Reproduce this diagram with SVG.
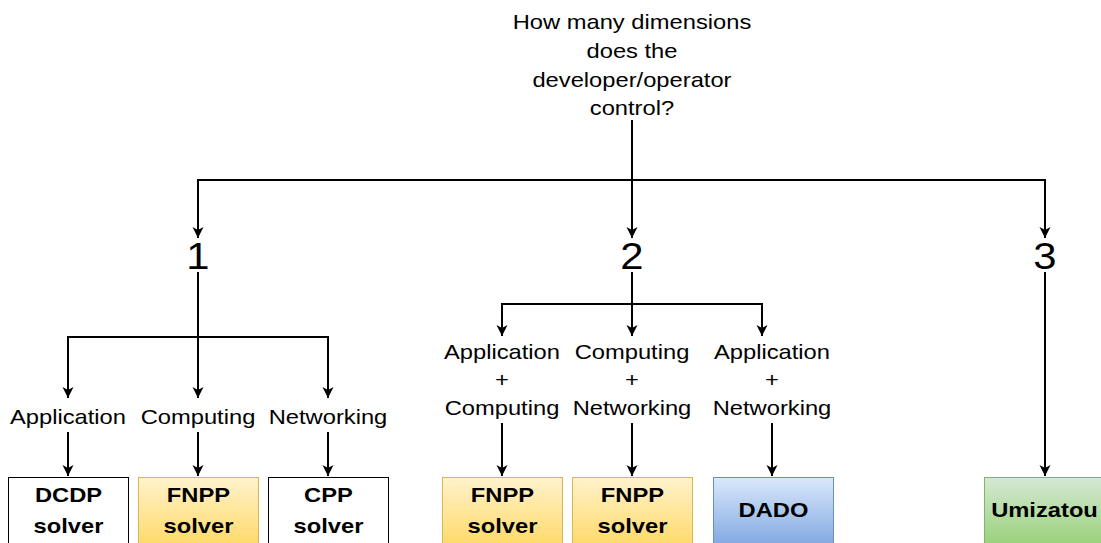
<svg xmlns="http://www.w3.org/2000/svg" width="1101" height="543" viewBox="0 0 1101 543">
<defs>
<marker id="arr" markerUnits="userSpaceOnUse" markerWidth="12" markerHeight="12" viewBox="0 0 12 12" refX="11" refY="6" orient="auto">
<path d="M0,0.5 L11,6 L0,11.5 L3,6 Z" fill="#000"/>
</marker>
<linearGradient id="gy" x1="0" y1="0" x2="0" y2="1"><stop offset="0" stop-color="#fff2cc"/><stop offset="1" stop-color="#ffd966"/></linearGradient>
<linearGradient id="gb" x1="0" y1="0" x2="0" y2="1"><stop offset="0" stop-color="#dae8fc"/><stop offset="1" stop-color="#7ea6e0"/></linearGradient>
<linearGradient id="gg" x1="0" y1="0" x2="0" y2="1"><stop offset="0" stop-color="#d5e8d4"/><stop offset="1" stop-color="#97d077"/></linearGradient>
</defs>
<style>
text{transform-box:fill-box;transform-origin:center;transform:scaleX(1.13)}
.t{font-family:"Liberation Sans",Arial,sans-serif;font-size:21px;fill:#000;text-anchor:middle}
.n{font-family:"Liberation Sans",Arial,sans-serif;font-size:37px;fill:#000;text-anchor:middle}
.b{font-family:"Liberation Sans",Arial,sans-serif;font-size:21px;font-weight:bold;fill:#000;text-anchor:middle}
.c{fill:none;stroke:#000;stroke-width:2}
.ca{fill:none;stroke:#000;stroke-width:2;marker-end:url(#arr)}
</style>
<rect width="1101" height="543" fill="#fff"/>
<g id="connectors">
<path class="ca" d="M632,120 L632,238"/>
<path class="ca" d="M632,180 L198,180 L198,238"/>
<path class="ca" d="M632,180 L1045,180 L1045,238"/>
<path class="ca" d="M198,272 L198,398"/>
<path class="ca" d="M198,337 L68,337 L68,398"/>
<path class="ca" d="M198,337 L328,337 L328,398"/>
<path class="ca" d="M632,272 L632,336"/>
<path class="ca" d="M632,304 L502,304 L502,336"/>
<path class="ca" d="M632,304 L762,304 L762,336"/>
<path class="ca" d="M68,432 L68,476"/>
<path class="ca" d="M198,432 L198,476"/>
<path class="ca" d="M328,432 L328,476"/>
<path class="ca" d="M502,423 L502,476"/>
<path class="ca" d="M632,423 L632,476"/>
<path class="ca" d="M772,423 L772,476"/>
<path class="ca" d="M1045,272 L1045,476"/>
</g>
<g id="question">
<text class="t" x="632" y="29">How many dimensions</text>
<text class="t" x="632" y="58">does the</text>
<text class="t" x="632" y="87">developer/operator</text>
<text class="t" x="632" y="115">control?</text>
</g>
<g id="n1"><rect x="183" y="240" width="30" height="32" fill="#fff"/><text class="n" x="198" y="269">1</text></g>
<g id="n2"><rect x="617" y="240" width="30" height="32" fill="#fff"/><text class="n" x="632" y="269">2</text></g>
<g id="n3"><rect x="1030" y="240" width="30" height="32" fill="#fff"/><text class="n" x="1045" y="269">3</text></g>
<g id="app"><rect x="8" y="404" width="120" height="27" fill="#fff"/><text class="t" x="68" y="424">Application</text></g>
<g id="comp"><rect x="139" y="404" width="118" height="27" fill="#fff"/><text class="t" x="198" y="424">Computing</text></g>
<g id="net"><rect x="268" y="404" width="120" height="27" fill="#fff"/><text class="t" x="328" y="424">Networking</text></g>
<g id="appcomp"><text class="t" x="502" y="359">Application</text><text class="t" x="502" y="387">+</text><text class="t" x="502" y="415">Computing</text></g>
<g id="compnet"><text class="t" x="632" y="359">Computing</text><text class="t" x="632" y="387">+</text><text class="t" x="632" y="415">Networking</text></g>
<g id="appnet"><text class="t" x="772" y="359">Application</text><text class="t" x="772" y="387">+</text><text class="t" x="772" y="415">Networking</text></g>
<g id="dcdp"><rect x="8.5" y="477.5" width="120" height="70" fill="#fff" stroke="#000" stroke-width="1"/><text class="b" x="68.5" y="502">DCDP</text><text class="b" x="68.5" y="533">solver</text></g>
<g id="fnpp1"><rect x="138.5" y="477.5" width="120" height="70" fill="url(#gy)" stroke="#d6b656" stroke-width="1"/><text class="b" x="198.5" y="502">FNPP</text><text class="b" x="198.5" y="533">solver</text></g>
<g id="cpp"><rect x="268.5" y="477.5" width="120" height="70" fill="#fff" stroke="#000" stroke-width="1"/><text class="b" x="328.5" y="502">CPP</text><text class="b" x="328.5" y="533">solver</text></g>
<g id="fnpp2"><rect x="442.5" y="477.5" width="120" height="70" fill="url(#gy)" stroke="#d6b656" stroke-width="1"/><text class="b" x="502.5" y="502">FNPP</text><text class="b" x="502.5" y="533">solver</text></g>
<g id="fnpp3"><rect x="572.5" y="477.5" width="120" height="70" fill="url(#gy)" stroke="#d6b656" stroke-width="1"/><text class="b" x="632.5" y="502">FNPP</text><text class="b" x="632.5" y="533">solver</text></g>
<g id="dado"><rect x="713.5" y="477.5" width="120" height="70" fill="url(#gb)" stroke="#6c8ebf" stroke-width="1"/><text class="b" x="773.5" y="517">DADO</text></g>
<g id="umizatou"><rect x="984.5" y="477.5" width="120" height="70" fill="url(#gg)" stroke="#82b366" stroke-width="1"/><text class="b" x="1044.5" y="517">Umizatou</text></g>
</svg>
